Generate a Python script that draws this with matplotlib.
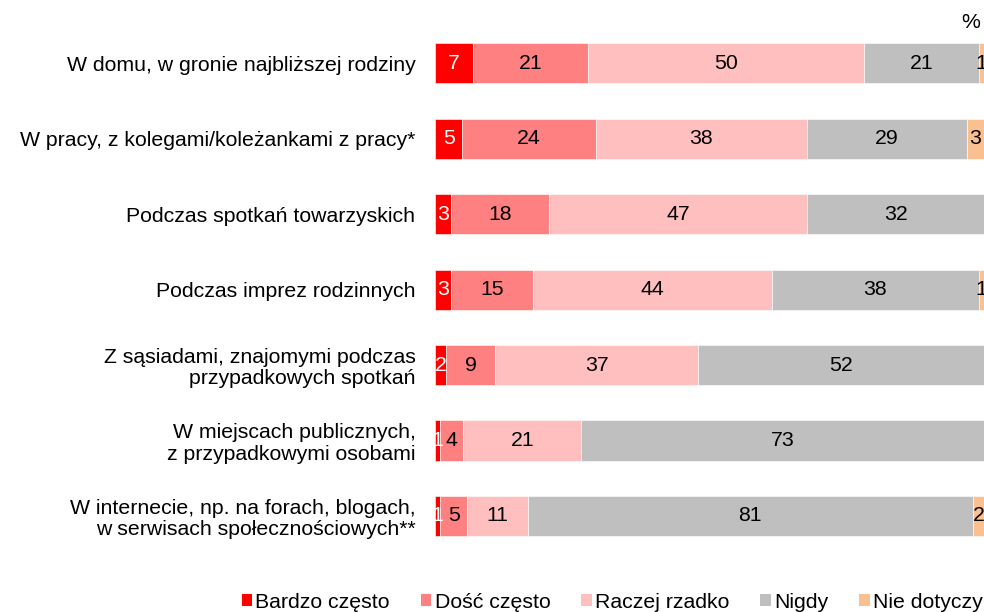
import matplotlib
matplotlib.use("Agg")
import matplotlib.pyplot as plt
import numpy as np
from matplotlib.patches import Patch

plt.rcParams["font.family"] = ["Liberation Sans", "DejaVu Sans"]

categories = [
    "W domu, w gronie najbliższej rodziny",
    "W pracy, z kolegami/koleżankami z pracy*",
    "Podczas spotkań towarzyskich",
    "Podczas imprez rodzinnych",
    "Z sąsiadami, znajomymi podczas\nprzypadkowych spotkań",
    "W miejscach publicznych,\nz przypadkowymi osobami",
    "W internecie, np. na forach, blogach,\nw serwisach społecznościowych**",
]
series = ["Bardzo często", "Dość często", "Raczej rzadko", "Nigdy", "Nie dotyczy"]

# shares (labels are the rounded values)
bardzo = [6.9, 5.0, 2.9, 2.9, 2.0, 0.9, 0.9]
dosc = [21.0, 24.3, 17.8, 14.9, 9.0, 4.3, 5.0]
raczej = [50.3, 38.4, 47.1, 43.6, 37.0, 21.4, 11.0]
nigdy = [20.8, 29.2, 32.2, 37.6, 52.0, 73.4, 81.1]
nie_dotyczy = [1.0, 3.1, 0.0, 1.0, 0.0, 0.0, 2.0]

colors = ["#FF0000", "#FF8080", "#FFBFBF", "#BFBFBF", "#FAC090"]
text_colors = ["white", "black", "black", "black", "black"]

fig = plt.figure(figsize=(9.84, 6.12), dpi=100)
ax = fig.add_axes([0.442, 0.0952, 0.558, 0.8635])

y = np.arange(len(categories))
left = np.zeros(len(categories))
handles = []
for vals, name, col, tcol in zip([bardzo, dosc, raczej, nigdy, nie_dotyczy], series, colors, text_colors):
    vals = np.array(vals)
    bars = ax.barh(y, vals, left=left, height=0.53, color=col, edgecolor="white", linewidth=0.4)
    labels = ["%.0f" % v if v > 0 else "" for v in vals]
    ax.bar_label(bars, labels=labels, label_type="center", color=tcol, fontsize=15.3)
    left += vals
    handles.append(Patch(facecolor=col, label=name))

ax.set_xlim(0, 100)
ax.set_ylim(len(categories) - 0.5, -0.5)
ax.set_yticks(y)
ax.set_yticklabels(categories, fontsize=15.3, linespacing=1.15)
ax.tick_params(axis="y", length=0, pad=14)
ax.set_xticks([])
for s in ax.spines.values():
    s.set_visible(False)

fig.text(0.986, 0.963, "%", ha="center", va="center", fontsize=15.3)

fig.legend(handles=handles, loc="center", bbox_to_anchor=(0.622, 0.016), ncol=5,
           frameon=False, fontsize=15.3, handlelength=0.5, handleheight=0.5,
           handletextpad=0.15, columnspacing=1.45, borderpad=0, borderaxespad=0)

fig.savefig("out.png", dpi=100)
